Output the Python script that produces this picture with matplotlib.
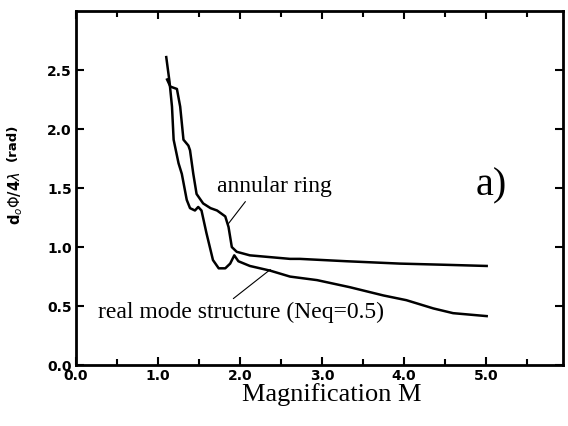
import matplotlib.pyplot as plt
from matplotlib.ticker import MultipleLocator

# annular ring model
ring_m = [1.11, 1.15, 1.23, 1.27, 1.31, 1.37, 1.39, 1.43, 1.47, 1.55, 1.64, 1.72, 1.82,
          1.86, 1.90, 1.96, 2.12, 2.61, 2.73, 3.30, 3.95, 4.50, 5.01]
ring_phi = [2.42, 2.36, 2.34, 2.19, 1.91, 1.86, 1.82, 1.62, 1.45, 1.37, 1.33, 1.31, 1.26,
            1.17, 1.00, 0.96, 0.93, 0.90, 0.90, 0.88, 0.86, 0.85, 0.84]

# real mode structure (Neq=0.5)
mode_m = [1.10, 1.14, 1.17, 1.19, 1.25, 1.29, 1.35, 1.39, 1.45, 1.49, 1.53, 1.59, 1.67,
          1.74, 1.82, 1.88, 1.93, 1.98, 2.12, 2.37, 2.61, 2.94, 3.34, 3.75, 4.03,
          4.36, 4.60, 5.01]
mode_phi = [2.61, 2.40, 2.19, 1.91, 1.71, 1.62, 1.40, 1.33, 1.31, 1.34, 1.31, 1.12, 0.89,
            0.82, 0.82, 0.86, 0.93, 0.88, 0.84, 0.80, 0.75, 0.72, 0.66, 0.59, 0.55,
            0.48, 0.44, 0.415]

fig = plt.figure(figsize=(5.68, 4.26), dpi=100)
ax = fig.add_axes([0.134, 0.143, 0.857, 0.831])

ax.plot(ring_m, ring_phi, color='black', lw=1.8)
ax.plot(mode_m, mode_phi, color='black', lw=1.8)

ax.set_xlim(0, 5.94)
ax.set_ylim(0, 3.0)
ax.xaxis.set_minor_locator(MultipleLocator(0.5))
ax.set_xticks([0, 1, 2, 3, 4, 5])
ax.set_yticks([0, 0.5, 1.0, 1.5, 2.0, 2.5])
ax.set_xticklabels(['0.0', '1.0', '2.0', '3.0', '4.0', '5.0'])
ax.set_yticklabels(['0.0', '0.5', '1.0', '1.5', '2.0', '2.5'])
ax.tick_params(which='both', direction='in', top=True, right=True, width=1.5)
ax.tick_params(which='major', length=6, pad=3, labelsize=10)
ax.tick_params(which='minor', length=4)
for lab in ax.get_xticklabels() + ax.get_yticklabels():
    lab.set_fontweight('bold')
for sp in ax.spines.values():
    sp.set_linewidth(2)

ax.set_xlabel('Magnification M', family='Liberation Serif', fontsize=19)
ax.xaxis.set_label_coords(0.526, -0.052)

# y axis label in two sizes
fig.text(0.028, 0.535, r'd$_o$$\Phi$/4$\lambda$', rotation=90, fontsize=10.5,
         fontweight='bold', ha='center', va='center')
fig.text(0.022, 0.667, '(rad)', rotation=90, fontsize=9.5, fontweight='bold',
         ha='center', va='center')

ax.annotate('annular ring', xy=(1.86, 1.20), xytext=(1.72, 1.47),
            family='Liberation Serif', fontsize=17,
            arrowprops=dict(arrowstyle='-', color='black', lw=0.8, shrinkA=2, shrinkB=0,
                            relpos=(0.28, 0.0)))
ax.annotate('real mode structure (Neq=0.5)', xy=(2.37, 0.81), xytext=(0.27, 0.45),
            family='Liberation Serif', fontsize=17, va='center',
            arrowprops=dict(arrowstyle='-', color='black', lw=0.8, shrinkA=0, shrinkB=0,
                            relpos=(0.46, 1.0)))
ax.text(4.87, 1.52, 'a)', family='Liberation Serif', fontsize=29, va='center')

plt.savefig('out.png', dpi=100)
